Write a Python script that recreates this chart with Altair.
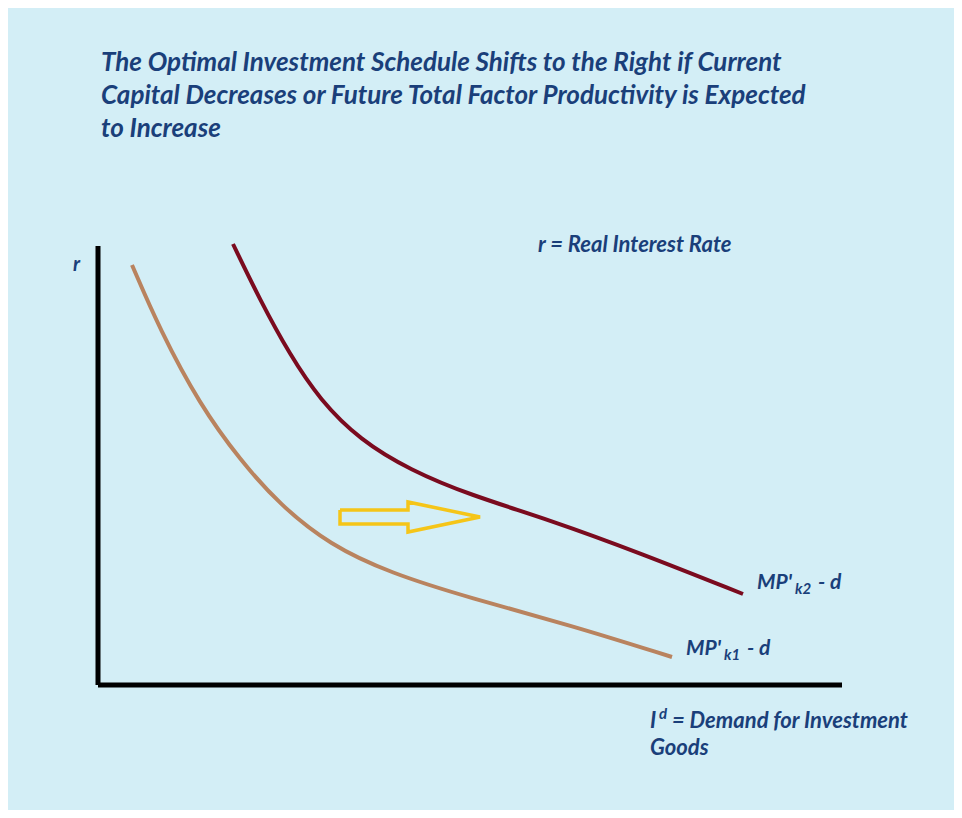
import pandas as pd
import altair as alt

BG = "#d3eef6"
BLUE = "#1a3f7a"
FONT = "Lato"

# curve points (pixel space of the 962x818 image)
low_x = [132, 160, 200, 240, 280, 330, 390, 470, 570, 672]
low_y = [265, 330, 405, 460, 505, 545, 573, 598, 625, 657]
high_x = [233, 260, 290, 320, 360, 410, 470, 550, 640, 743]
high_y = [244, 300, 355, 400, 440, 470, 495, 520, 553, 594]

arrow_x = [340, 408, 408, 480, 408, 408, 340, 340]
arrow_y = [510, 510, 502, 517, 532, 524, 524, 510]

title_lines = [
    "The Optimal Investment Schedule Shifts to the Right if Current",
    "Capital Decreases or Future Total Factor Productivity is Expected",
    "to Increase",
]

xs = alt.Scale(domain=[8, 954], range=[0, 946], nice=False, zero=False)
ys = alt.Scale(domain=[8, 810], range=[0, 802], nice=False, zero=False)


def X(f):
    return alt.X(f, scale=xs, axis=None)


def Y(f):
    return alt.Y(f, scale=ys, axis=None)


low = pd.DataFrame({"x": low_x, "y": low_y, "o": range(len(low_x))})
high = pd.DataFrame({"x": high_x, "y": high_y, "o": range(len(high_x))})
arrow = pd.DataFrame({"x": arrow_x, "y": arrow_y, "o": range(len(arrow_x))})

low_line = alt.Chart(low).mark_line(color="#b9835f", strokeWidth=4, interpolate="basis").encode(
    x=X("x:Q"), y=Y("y:Q"), order="o:Q")
high_line = alt.Chart(high).mark_line(color="#7a0b1f", strokeWidth=4, interpolate="basis").encode(
    x=X("x:Q"), y=Y("y:Q"), order="o:Q")
arrow_line = alt.Chart(arrow).mark_line(color="#f5c518", strokeWidth=3.5, strokeJoin="miter").encode(
    x=X("x:Q"), y=Y("y:Q"), order="o:Q")

axes = pd.DataFrame({"x": [98, 98], "y": [246, 685], "x2": [98, 842], "y2": [685, 685]})
axis_rules = alt.Chart(axes).mark_rule(color="black", strokeWidth=5).encode(
    x=X("x:Q"), y=Y("y:Q"), x2="x2:Q", y2="y2:Q")

labels = pd.DataFrame({
    "t": title_lines + ["r", "r = Real Interest Rate", "MP'", "- d", "MP'", "- d",
                        "I", "= Demand for Investment", "Goods"],
    "x": [101, 101, 101, 73, 538, 757, 818, 686, 747, 650, 672, 650],
    "y": [63, 96, 129, 265, 245, 583, 583, 649, 649, 721, 721, 748],
    "s": [26, 26, 26, 20, 22, 21, 21, 21, 21, 22, 22, 22],
})
text = alt.Chart(labels).mark_text(align="left", baseline="middle", font=FONT,
                                   fontStyle="italic", fontWeight="bold", color=BLUE).encode(
    x=X("x:Q"), y=Y("y:Q"), text="t:N", size=alt.Size("s:Q", scale=None, legend=None))

subs = pd.DataFrame({"t": ["k2", "k1", "d"], "x": [795, 724, 659], "y": [589, 655, 714]})
sub_text = alt.Chart(subs).mark_text(align="left", baseline="middle", font=FONT,
                                     fontStyle="italic", fontWeight="bold", color=BLUE,
                                     fontSize=15).encode(
    x=X("x:Q"), y=Y("y:Q"), text="t:N")

chart = alt.layer(axis_rules, low_line, high_line, arrow_line, text, sub_text).properties(
    width=946, height=802, autosize=alt.AutoSizeParams(type="none"), padding=0,
    background=BG,
).configure_view(strokeWidth=0, fill=BG)

chart.save("out.html", embed_options={"renderer": "svg", "actions": False})
